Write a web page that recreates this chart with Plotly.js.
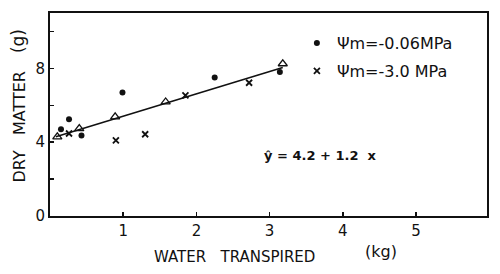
<!DOCTYPE html>
<html>
<head>
<meta charset="utf-8">
<script src="https://cdn.plot.ly/plotly-3.0.1.min.js"></script>
<style>
  html, body { margin: 0; padding: 0; background: #fff; }
  #grafico { width: 500px; height: 274px; }
</style>
</head>
<body>
<div id="grafico"></div>
<script>
// puntos
const wetX = [0.15, 0.26, 0.43, 0.99, 2.25, 3.14];
const wetY = [4.70, 5.24, 4.36, 6.69, 7.51, 7.80];

const dryX = [0.26, 0.90, 1.30, 1.85, 2.72];
const dryY = [4.47, 4.10, 4.43, 6.54, 7.22];

const meanX = [0.10, 0.40, 0.89, 1.58, 3.18];
const meanY = [4.29, 4.74, 5.37, 6.18, 8.25];

const lineX = [0.08, 3.18];
const lineY = [4.30, 8.05];

const xTicks = [1, 2, 3, 4, 5];
const yTicks = [0, 2, 4, 6, 8, 10];
const yTickText = ['0', '', '4', '', '8', ''];

const fuente = 'DejaVu Sans, sans-serif';

const data = [
    {
        x: lineX, y: lineY,
        mode: 'lines', type: 'scatter',
        line: { color: '#111', width: 1.6 },
        showlegend: false,
        hoverinfo: 'skip'
    },
    {
        x: meanX, y: meanY,
        mode: 'markers', type: 'scatter',
        marker: { symbol: 'triangle-up-open', size: 8, color: '#111', line: { width: 1.3 } },
        showlegend: false
    },
    {
        x: wetX, y: wetY,
        mode: 'markers', type: 'scatter',
        name: 'Ψm=-0.06MPa',
        marker: { symbol: 'circle', size: 6, color: '#111' },
        legendgroup: 'a'
    },
    {
        x: dryX, y: dryY,
        mode: 'markers', type: 'scatter',
        name: 'Ψm=-3.0 MPa',
        marker: { symbol: 'x-thin-open', size: 6, color: '#111', line: { width: 1.8, color: '#111' } },
        legendgroup: 'b'
    }
];

const layout = {
    width: 500, height: 274,
    margin: { l: 50, r: 13, t: 13, b: 58 },
    paper_bgcolor: '#fff',
    plot_bgcolor: '#fff',
    font: { family: fuente, color: '#111', size: 14 },
    xaxis: {
        range: [0, 5.97],
        tickvals: xTicks,
        ticks: 'inside', ticklen: 4, tickwidth: 1.5, tickcolor: '#111',
        showline: true, linecolor: '#111', linewidth: 2, mirror: true,
        showgrid: false, zeroline: false,
        tickfont: { size: 15 }
    },
    yaxis: {
        range: [0, 11],
        tickvals: yTicks, ticktext: yTickText,
        ticks: 'inside', ticklen: 4, tickwidth: 1.5, tickcolor: '#111',
        showline: true, linecolor: '#111', linewidth: 2, mirror: true,
        showgrid: false, zeroline: false,
        tickfont: { size: 15 }
    },
    showlegend: true,
    legend: {
        x: 0.565, y: 0.935, xanchor: 'left', yanchor: 'top',
        bgcolor: 'rgba(0,0,0,0)',
        font: { size: 16, family: fuente },
        traceorder: 'grouped', tracegroupgap: 4,
        itemwidth: 30
    },
    annotations: [
        { xref: 'paper', yref: 'paper', x: 0.423, y: -0.202, xanchor: 'center', yanchor: 'middle',
          text: 'WATER   TRANSPIRED', showarrow: false, font: { size: 15 } },
        { xref: 'paper', yref: 'paper', x: 0.757, y: -0.177, xanchor: 'center', yanchor: 'middle',
          text: '(kg)', showarrow: false, font: { size: 16 } },
        { xref: 'paper', yref: 'paper', x: -0.069, y: 0.44, xanchor: 'center', yanchor: 'middle',
          text: 'DRY   MATTER', textangle: -90, showarrow: false, font: { size: 16 } },
        { xref: 'paper', yref: 'paper', x: -0.073, y: 0.862, xanchor: 'center', yanchor: 'middle',
          text: '(g)', textangle: -90, showarrow: false, font: { size: 17 } },
        { xref: 'x', yref: 'y', x: 2.9, y: 3.3, xanchor: 'left', yanchor: 'middle',
          text: '<b>ŷ = 4.2 + 1.2  x</b>', showarrow: false, font: { size: 13 } }
    ]
};

Plotly.newPlot('grafico', data, layout, { displayModeBar: false, staticPlot: true });
</script>
</body>
</html>
